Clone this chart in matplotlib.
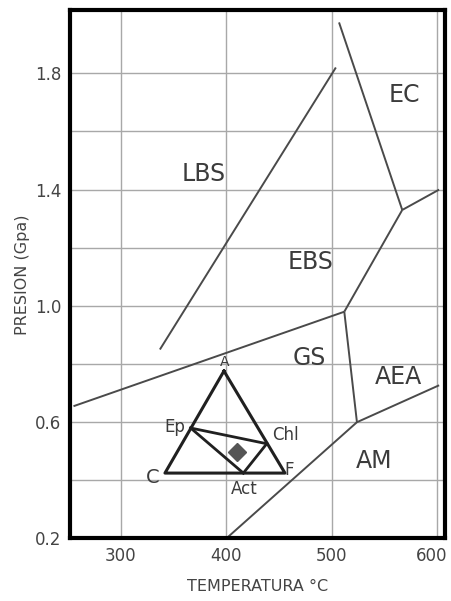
import numpy as np
import matplotlib
matplotlib.use("Agg")
import matplotlib.pyplot as plt
import matplotlib.transforms as mtransforms

plt.rcParams['font.family'] = ['DejaVu Sans']

# facies boundaries (temperature C, pressure GPa)
lbs_ebs_T = [337, 504]
lbs_ebs_P = [0.85, 1.82]
ec_T = [507, 567]
ec_P = [1.975, 1.33]
ec_east_T = [567, 602]
ec_east_P = [1.33, 1.40]
ebs_low_T = [567, 512]
ebs_low_P = [1.33, 0.98]
gs_top_T = [255, 512]
gs_top_P = [0.655, 0.98]
gs_aea_T = [512, 524]
gs_aea_P = [0.98, 0.60]
am_T = [400, 524, 602]
am_P = [0.20, 0.60, 0.727]

# region labels
regions = ["EC", "LBS", "EBS", "GS", "AEA", "AM"]
region_T = [569, 379, 480, 479, 563, 540]
region_P = [1.725, 1.455, 1.15, 0.82, 0.757, 0.466]

# ACF triangle
tri_names = ["A", "C", "F"]
tri_T = [397.8, 341.8, 455.7]
tri_P = [0.776, 0.425, 0.425]
ep = (366.2, 0.580)
chl = (438.4, 0.526)
act = (416.2, 0.425)
sample = (410.5, 0.497)

x_ticks = [300, 400, 500, 600]
y_ticks = [0.2, 0.6, 1.0, 1.4, 1.8]

fig = plt.figure(figsize=(4.51, 6.01), dpi=100)
ax = fig.add_axes([0.155, 0.104, 0.832, 0.879])

lc = '#4a4a4a'
tc = '#3c3c3c'

for t, p in [(lbs_ebs_T, lbs_ebs_P), (ec_T, ec_P), (ec_east_T, ec_east_P),
             (ebs_low_T, ebs_low_P), (gs_top_T, gs_top_P), (gs_aea_T, gs_aea_P),
             (am_T, am_P)]:
    ax.plot(t, p, color=lc, lw=1.4, solid_capstyle='butt')

# triangle
ax.plot(tri_T + [tri_T[0]], tri_P + [tri_P[0]], color='#202020', lw=2.2)
ax.plot([ep[0], chl[0]], [ep[1], chl[1]], color='#202020', lw=2.0)
ax.plot([ep[0], act[0]], [ep[1], act[1]], color='#202020', lw=2.0)
ax.plot([chl[0], act[0]], [chl[1], act[1]], color='#202020', lw=2.0)
ax.plot([sample[0]], [sample[1]], marker='D', ms=9, color='#555555', mec='#555555')

for name, t, p in zip(regions, region_T, region_P):
    ax.text(t, p, name, fontsize=17, color=tc, ha='center', va='center')

ax.text(tri_T[0] + 1, tri_P[0] + 0.03, "A", fontsize=10, color=tc, ha='center', va='center')
ax.text(tri_T[1] - 12, tri_P[1] - 0.015, "C", fontsize=14, color=tc, ha='center', va='center')
ax.text(tri_T[2] + 4, tri_P[2] + 0.01, "F", fontsize=12, color=tc, ha='center', va='center')
ax.text(ep[0] - 15, ep[1] + 0.005, "Ep", fontsize=12, color=tc, ha='center', va='center')
ax.text(chl[0] + 18, chl[1] + 0.03, "Chl", fontsize=12, color=tc, ha='center', va='center')
ax.text(act[0] + 1, act[1] - 0.055, "Act", fontsize=12, color=tc, ha='center', va='center')

ax.set_xlim(251.6, 607.7)
ax.set_ylim(0.2, 2.017)
ax.set_xticks(x_ticks)
ax.set_yticks(y_ticks)
ax.set_yticklabels([f"{v:.1f}" for v in y_ticks])
ax.set_yticks(np.arange(0.2, 2.0, 0.2), minor=True)
ax.grid(True, which='both', color='#a8a8a8', lw=1.0)
ax.set_axisbelow(True)
ax.tick_params(which='both', length=0, labelsize=12, labelcolor='#444444', pad=6)
for s in ax.spines.values():
    s.set_linewidth(3)
    s.set_color('black')

# nudge the last x label so it stays inside the figure
last = ax.get_xticklabels()[-1]
last.set_transform(last.get_transform() + mtransforms.ScaledTranslation(-5 / 100, 0, fig.dpi_scale_trans))

ax.set_xlabel("TEMPERATURA °C", fontsize=11.5, color='#444444', labelpad=10)
ax.set_ylabel("PRESION (Gpa)", fontsize=11.5, color='#444444', labelpad=4)

fig.savefig("out.png", dpi=100)
